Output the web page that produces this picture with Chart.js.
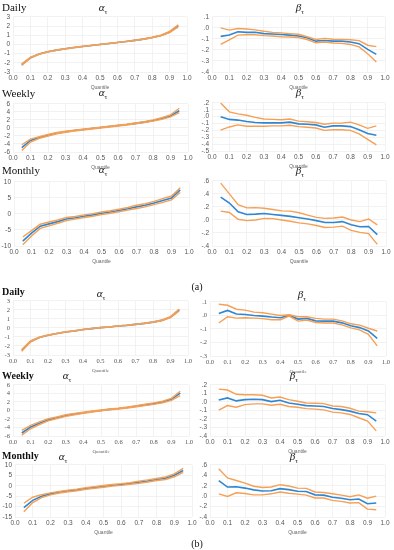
<!DOCTYPE html>
<html>
<head>
<meta charset="utf-8">
<script src="https://cdn.jsdelivr.net/npm/chart.js@4/dist/chart.umd.min.js"></script>
<style>
  body { margin: 0; background: #fff; width: 394px; height: 550px; position: relative; overflow: hidden; }
  canvas { position: absolute; }
  .lbl { position: absolute; font-family: "Liberation Serif", serif; color: #111; white-space: nowrap; }
  .row { font-size: 11px; }
  .rowb { font-size: 10px; font-weight: bold; }
  .ttl { font-size: 11px; transform: translateX(-50%); }
  .ttl sub { font-size: 7px; }
  .pan { font-size: 10px; transform: translateX(-50%); }
</style>
</head>
<body>
<script>
const quantiles = [0.05, 0.1, 0.15, 0.2, 0.25, 0.3, 0.35, 0.4, 0.45, 0.5, 0.55, 0.6, 0.65, 0.7, 0.75, 0.8, 0.85, 0.9, 0.95];

// panel (a)
const aDailyAlpha = [-2.2, -1.45, -1.05, -0.8, -0.62, -0.47, -0.34, -0.22, -0.11, 0.0, 0.1, 0.21, 0.32, 0.44, 0.58, 0.76, 0.98, 1.35, 2.05];
const aDailyAlphaLo = [-2.3, -1.5, -1.08, -0.82, -0.64, -0.49, -0.36, -0.24, -0.12, -0.01, 0.09, 0.2, 0.31, 0.42, 0.56, 0.73, 0.94, 1.28, 1.92];
const aDailyAlphaHi = [-2.12, -1.4, -1.02, -0.78, -0.6, -0.45, -0.32, -0.2, -0.1, 0.01, 0.11, 0.22, 0.33, 0.46, 0.6, 0.79, 1.02, 1.42, 2.15];
const aDailyBeta = [-0.077, -0.065, -0.035, -0.04, -0.04, -0.052, -0.055, -0.06, -0.065, -0.073, -0.09, -0.12, -0.114, -0.12, -0.12, -0.128, -0.143, -0.195, -0.24];
const aDailyBetaHi = [0.0, -0.02, -0.005, -0.01, -0.018, -0.03, -0.04, -0.045, -0.052, -0.058, -0.08, -0.105, -0.095, -0.103, -0.105, -0.108, -0.115, -0.157, -0.17];
const aDailyBetaLo = [-0.15, -0.108, -0.065, -0.062, -0.062, -0.07, -0.073, -0.08, -0.082, -0.088, -0.105, -0.135, -0.128, -0.137, -0.14, -0.15, -0.172, -0.235, -0.31];

const aWeeklyAlpha = [-4.9, -3.1, -2.4, -1.8, -1.3, -0.95, -0.65, -0.4, -0.15, 0.1, 0.35, 0.6, 0.85, 1.15, 1.45, 1.85, 2.35, 3.0, 4.3];
const aWeeklyAlphaLo = [-5.6, -3.5, -2.6, -2.0, -1.45, -1.08, -0.77, -0.5, -0.25, 0.0, 0.25, 0.5, 0.75, 1.03, 1.32, 1.7, 2.15, 2.75, 3.8];
const aWeeklyAlphaHi = [-4.2, -2.8, -2.2, -1.6, -1.15, -0.82, -0.53, -0.3, -0.05, 0.2, 0.45, 0.7, 0.95, 1.27, 1.58, 2.0, 2.55, 3.25, 4.9];
const aWeeklyBeta = [0.0, -0.04, -0.05, -0.07, -0.085, -0.09, -0.09, -0.09, -0.08, -0.105, -0.11, -0.12, -0.155, -0.135, -0.135, -0.145, -0.19, -0.245, -0.27];
const aWeeklyBetaHi = [0.2, 0.07, 0.04, 0.02, -0.01, -0.035, -0.04, -0.045, -0.035, -0.065, -0.075, -0.085, -0.11, -0.095, -0.095, -0.08, -0.12, -0.17, -0.135];
const aWeeklyBetaLo = [-0.195, -0.15, -0.12, -0.14, -0.14, -0.14, -0.135, -0.135, -0.125, -0.145, -0.155, -0.165, -0.2, -0.19, -0.19, -0.2, -0.25, -0.33, -0.41];

const aMonthlyAlpha = [-8.5, -6.0, -3.8, -3.1, -2.4, -1.6, -1.2, -0.7, -0.3, 0.2, 0.6, 1.1, 1.6, 2.2, 2.7, 3.4, 4.2, 5.0, 7.5];
const aMonthlyAlphaLo = [-9.6, -6.9, -4.5, -3.7, -2.9, -2.1, -1.6, -1.1, -0.7, -0.2, 0.2, 0.7, 1.2, 1.7, 2.2, 2.9, 3.6, 4.4, 6.7];
const aMonthlyAlphaHi = [-7.2, -5.2, -3.2, -2.5, -1.9, -1.1, -0.8, -0.3, 0.1, 0.6, 1.0, 1.5, 2.0, 2.7, 3.2, 3.9, 4.8, 5.6, 8.2];
const aMonthlyBeta = [0.35, 0.26, 0.125, 0.085, 0.09, 0.1, 0.085, 0.07, 0.055, 0.035, 0.015, -0.01, -0.04, -0.04, -0.025, -0.075, -0.105, -0.1, -0.225];
const aMonthlyBetaHi = [0.565, 0.4, 0.235, 0.185, 0.19, 0.18, 0.16, 0.14, 0.135, 0.11, 0.075, 0.04, 0.025, 0.03, 0.045, 0.0, -0.025, 0.015, -0.075];
const aMonthlyBetaLo = [0.135, 0.115, 0.01, -0.01, 0.0, 0.025, 0.02, 0.0, -0.02, -0.045, -0.06, -0.085, -0.115, -0.11, -0.095, -0.16, -0.19, -0.21, -0.375];

// panel (b)
const bDailyAlpha = [-2.5, -1.5, -1.05, -0.8, -0.62, -0.44, -0.33, -0.18, -0.07, 0.04, 0.11, 0.22, 0.29, 0.4, 0.51, 0.65, 0.84, 1.2, 2.0];
const bDailyAlphaLo = [-2.6, -1.56, -1.08, -0.82, -0.64, -0.46, -0.35, -0.2, -0.08, 0.03, 0.1, 0.21, 0.28, 0.38, 0.49, 0.62, 0.8, 1.14, 1.88];
const bDailyAlphaHi = [-2.4, -1.44, -1.02, -0.78, -0.6, -0.42, -0.31, -0.16, -0.06, 0.05, 0.12, 0.23, 0.3, 0.42, 0.53, 0.68, 0.88, 1.26, 2.1];
const bDailyBeta = [0.015, 0.037, 0.01, 0.007, 0.0, -0.005, -0.012, -0.017, 0.0, -0.027, -0.022, -0.04, -0.042, -0.042, -0.055, -0.077, -0.09, -0.115, -0.17];
const bDailyBetaHi = [0.083, 0.075, 0.046, 0.039, 0.024, 0.02, 0.01, 0.0, 0.005, -0.01, -0.01, -0.022, -0.027, -0.027, -0.04, -0.062, -0.072, -0.095, -0.115];
const bDailyBetaLo = [-0.056, -0.01, -0.02, -0.017, -0.02, -0.024, -0.032, -0.032, -0.005, -0.042, -0.034, -0.052, -0.056, -0.056, -0.07, -0.092, -0.107, -0.14, -0.225];

const bWeeklyAlpha = [-5.3, -3.9, -3.0, -2.2, -1.7, -1.2, -0.85, -0.55, -0.25, 0.0, 0.25, 0.45, 0.7, 1.0, 1.3, 1.6, 2.0, 2.6, 4.1];
const bWeeklyAlphaLo = [-5.8, -4.3, -3.3, -2.45, -1.9, -1.38, -1.0, -0.68, -0.36, -0.1, 0.15, 0.35, 0.58, 0.86, 1.14, 1.42, 1.8, 2.35, 3.5];
const bWeeklyAlphaHi = [-4.7, -3.5, -2.7, -1.95, -1.5, -1.02, -0.7, -0.42, -0.14, 0.1, 0.35, 0.55, 0.82, 1.14, 1.46, 1.78, 2.2, 2.85, 4.5];
const bWeeklyBeta = [0.023, 0.047, 0.012, 0.027, 0.031, 0.027, 0.004, 0.02, -0.012, -0.027, -0.043, -0.047, -0.054, -0.078, -0.09, -0.108, -0.136, -0.15, -0.225];
const bWeeklyBetaHi = [0.15, 0.14, 0.09, 0.085, 0.085, 0.078, 0.047, 0.058, 0.027, 0.008, -0.012, -0.015, -0.02, -0.047, -0.054, -0.074, -0.108, -0.116, -0.128];
const bWeeklyBetaLo = [-0.097, -0.043, -0.062, -0.031, -0.023, -0.023, -0.039, -0.027, -0.054, -0.062, -0.078, -0.085, -0.093, -0.12, -0.128, -0.147, -0.186, -0.225, -0.34];

const bMonthlyAlpha = [-10.5, -7.0, -5.0, -3.9, -3.1, -2.5, -2.0, -1.3, -0.8, -0.3, 0.2, 0.6, 1.1, 1.7, 2.3, 3.0, 3.6, 5.0, 7.3];
const bMonthlyAlphaLo = [-12.5, -8.1, -5.7, -4.4, -3.5, -2.9, -2.4, -1.7, -1.2, -0.7, -0.2, 0.2, 0.7, 1.2, 1.8, 2.5, 3.0, 4.3, 6.4];
const bMonthlyAlphaHi = [-8.4, -5.5, -4.3, -3.4, -2.7, -2.1, -1.6, -0.9, -0.4, 0.1, 0.6, 1.0, 1.5, 2.2, 2.8, 3.5, 4.2, 5.7, 8.3];
const bMonthlyBeta = [0.3, 0.175, 0.18, 0.155, 0.12, 0.1, 0.105, 0.145, 0.125, 0.095, 0.09, 0.025, 0.02, -0.02, -0.04, -0.07, -0.055, -0.145, -0.13];
const bMonthlyBetaHi = [0.525, 0.35, 0.3, 0.25, 0.19, 0.165, 0.175, 0.22, 0.195, 0.155, 0.15, 0.08, 0.07, 0.045, 0.02, -0.01, 0.025, -0.04, 0.0];
const bMonthlyBetaLo = [0.045, -0.005, 0.065, 0.05, 0.025, 0.025, 0.045, 0.08, 0.055, 0.04, 0.02, -0.035, -0.035, -0.08, -0.1, -0.13, -0.125, -0.25, -0.26];

const BLUE = '#2f86d2';
const ORANGE = '#f5a055';
const SANS = "'Liberation Sans', Arial, sans-serif";
const SERIF = "'Liberation Serif', 'Times New Roman', serif";

const pts = arr => quantiles.map((q, i) => ({ x: q, y: arr[i] }));

function betaFmt(v) {
  const s = Math.abs(v).toFixed(1).replace(/^0/, '');
  return (v < -1e-9 ? '-' : '') + s;
}

// area = [left, top, right, bottom] of the plot area in page pixels
function makeChart(area, y, mid, lo, hi, family) {
  const padL = 15, padT = 6, padR = 9, axisH = 19;
  const [l, t, r, b] = area;
  const cv = document.createElement('canvas');
  const w = r - l + padL + padR, h = b - t + padT + axisH;
  cv.width = w; cv.height = h;
  cv.style.left = (l - padL) + 'px';
  cv.style.top = (t - padT) + 'px';
  cv.style.width = w + 'px'; cv.style.height = h + 'px';
  document.body.appendChild(cv);

  const line = (data, color, width) => ({
    data: pts(data), borderColor: color, borderWidth: width,
    pointRadius: 0, tension: 0, fill: false
  });

  new Chart(cv.getContext('2d'), {
    type: 'line',
    data: { datasets: [line(lo, ORANGE, 1.4), line(hi, ORANGE, 1.4), line(mid, BLUE, 1.6)] },
    options: {
      responsive: false,
      animation: false,
      devicePixelRatio: 1,
      layout: { padding: { left: 0, top: padT, right: padR, bottom: 0 } },
      plugins: { legend: { display: false }, tooltip: { enabled: false } },
      scales: {
        x: {
          type: 'linear', min: 0, max: 1,
          ticks: { stepSize: 0.1, padding: 2, color: '#555', font: { size: 6.5, family }, callback: v => v.toFixed(1), maxRotation: 0, autoSkip: false },
          grid: { color: '#ececec', lineWidth: 0.7, drawTicks: false },
          border: { display: false },
          title: { display: true, text: 'Quantile', color: '#666', font: { size: 5, family }, padding: 0 },
          afterFit: s => { s.height = axisH; }
        },
        y: {
          min: y.min, max: y.max,
          ticks: { stepSize: y.step, padding: 3, color: '#555', font: { size: 6.5, family }, callback: y.fmt, autoSkip: false },
          grid: { color: '#ececec', lineWidth: 0.7, drawTicks: false },
          border: { display: false },
          afterFit: s => { s.width = padL; }
        }
      }
    }
  });
}

const intFmt = v => String(Math.round(v));

makeChart([13, 16, 187, 72], { min: -3, max: 3, step: 1, fmt: intFmt }, aDailyAlpha, aDailyAlphaLo, aDailyAlphaHi, SANS);
makeChart([212, 16, 385, 72], { min: -0.4, max: 0.1, step: 0.1, fmt: betaFmt }, aDailyBeta, aDailyBetaLo, aDailyBetaHi, SANS);
makeChart([13, 103, 188, 152], { min: -6, max: 6, step: 2, fmt: intFmt }, aWeeklyAlpha, aWeeklyAlphaLo, aWeeklyAlphaHi, SANS);
makeChart([212, 102, 385, 151], { min: -0.5, max: 0.2, step: 0.1, fmt: betaFmt }, aWeeklyBeta, aWeeklyBetaLo, aWeeklyBetaHi, SANS);
makeChart([14, 181, 189, 246], { min: -10, max: 10, step: 5, fmt: intFmt }, aMonthlyAlpha, aMonthlyAlphaLo, aMonthlyAlphaHi, SANS);
makeChart([212, 180, 386, 246], { min: -0.4, max: 0.6, step: 0.2, fmt: betaFmt }, aMonthlyBeta, aMonthlyBetaLo, aMonthlyBetaHi, SANS);

makeChart([13, 300, 188, 355], { min: -3, max: 3, step: 1, fmt: intFmt }, bDailyAlpha, bDailyAlphaLo, bDailyAlphaHi, SERIF);
makeChart([210, 301, 386, 356], { min: -0.3, max: 0.1, step: 0.1, fmt: betaFmt }, bDailyBeta, bDailyBetaLo, bDailyBetaHi, SERIF);
makeChart([13, 384, 189, 436], { min: -6, max: 6, step: 2, fmt: intFmt }, bWeeklyAlpha, bWeeklyAlphaLo, bWeeklyAlphaHi, SERIF);
makeChart([210, 384, 385, 436], { min: -0.4, max: 0.2, step: 0.1, fmt: betaFmt }, bWeeklyBeta, bWeeklyBetaLo, bWeeklyBetaHi, SANS);
makeChart([15, 464, 192, 517], { min: -15, max: 10, step: 5, fmt: intFmt }, bMonthlyAlpha, bMonthlyAlphaLo, bMonthlyAlphaHi, SANS);
makeChart([210, 464, 385, 517], { min: -0.4, max: 0.6, step: 0.2, fmt: betaFmt }, bMonthlyBeta, bMonthlyBetaLo, bMonthlyBetaHi, SANS);

// text labels
const labels = [
  ['row', 2, 1, 'Daily'], ['ttl', 103, 1, '<i>α</i><sub>τ</sub>'], ['ttl', 300, 1, '<i>β</i><sub>τ</sub>'],
  ['row', 2, 87, 'Weekly'], ['ttl', 103, 86, '<i>α</i><sub>τ</sub>'], ['ttl', 300, 86, '<i>β</i><sub>τ</sub>'],
  ['row', 2, 164, 'Monthly'], ['ttl', 103, 163, '<i>α</i><sub>τ</sub>'], ['ttl', 300, 164, '<i>β</i><sub>τ</sub>'],
  ['pan', 197, 281, '(a)'],
  ['rowb', 2, 286, 'Daily'], ['ttl', 101, 287, '<i>α</i><sub>τ</sub>'], ['ttl', 302, 288, '<i>β</i><sub>τ</sub>'],
  ['rowb', 2, 370, 'Weekly'], ['ttl', 67, 369, '<i>α</i><sub>τ</sub>'], ['ttl', 294, 369, '<i>β</i><sub>τ</sub>'],
  ['rowb', 2, 450, 'Monthly'], ['ttl', 63, 450, '<i>α</i><sub>τ</sub>'], ['ttl', 294, 450, '<i>β</i><sub>τ</sub>'],
  ['pan', 197, 538, '(b)']
];
labels.forEach(([cls, x, y, html]) => {
  const d = document.createElement('div');
  d.className = 'lbl ' + cls;
  d.style.left = x + 'px';
  d.style.top = y + 'px';
  d.innerHTML = html;
  document.body.appendChild(d);
});
</script>
</body>
</html>
